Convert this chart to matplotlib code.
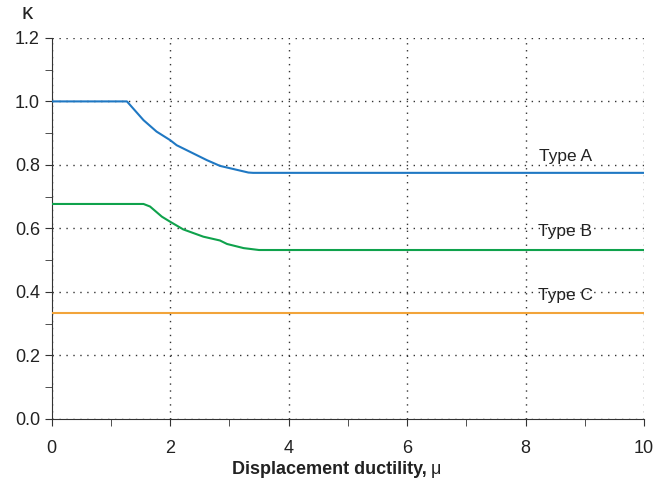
import matplotlib.pyplot as plt
from matplotlib.ticker import MultipleLocator

plt.rcParams["font.family"] = ["Liberation Sans", "DejaVu Sans"]

# values
mu_a = [0, 1.27, 1.55, 1.77, 2.0, 2.11, 2.62, 2.84, 3.32, 3.4, 10]
kappa_a = [1.0, 1.0, 0.941, 0.905, 0.878, 0.862, 0.815, 0.797, 0.776, 0.775, 0.775]

mu_b = [0, 1.55, 1.66, 1.86, 2.0, 2.22, 2.56, 2.84, 2.96, 3.24, 3.5, 10]
kappa_b = [0.677, 0.677, 0.669, 0.637, 0.621, 0.597, 0.574, 0.562, 0.551, 0.538, 0.532, 0.532]

mu_c = [0, 10]
kappa_c = [0.333, 0.333]

labels = ["Type A", "Type B", "Type C"]
label_y = [0.828, 0.59, 0.389]
label_x = 8.67

colors = ["#1f78c3", "#0fa24c", "#f2a43a"]

fig = plt.figure(figsize=(6.56, 4.86), dpi=100)
ax = fig.add_axes([0.0788, 0.138, 0.903, 0.784])

for mu, k, c in zip([mu_a, mu_b, mu_c], [kappa_a, kappa_b, kappa_c], colors):
    ax.plot(mu, k, color=c, linewidth=1.5, zorder=3)

for lab, y in zip(labels, label_y):
    ax.text(label_x, y, lab, ha="center", va="center", fontsize=12.5, color="#222222")

ax.set_xlim(0, 10)
ax.set_ylim(0, 1.2)
ax.xaxis.set_major_locator(MultipleLocator(2))
ax.xaxis.set_minor_locator(MultipleLocator(1))
ax.yaxis.set_major_locator(MultipleLocator(0.2))
ax.yaxis.set_minor_locator(MultipleLocator(0.1))
ax.yaxis.set_major_formatter(lambda v, p: f"{v:.1f}")

ax.grid(True, which="major", linestyle=(0, (1, 4)), color="#333333", linewidth=1)
ax.spines["top"].set_visible(False)
ax.spines["right"].set_visible(False)
for s in ["left", "bottom"]:
    ax.spines[s].set_color("#333333")
ax.tick_params(which="major", length=5, labelsize=13, colors="#333333", labelcolor="#222222")
ax.tick_params(which="minor", length=5, colors="#333333")
ax.tick_params(axis="x", pad=10)

# x label: bold words, regular mu
xl = fig.text(0.354, 0.033, "Displacement ductility,", fontsize=13, fontweight="bold",
              ha="left", va="center", color="#222222")
fig.canvas.draw()
bb = xl.get_window_extent()
fig.text((bb.x1 + 4) / fig.bbox.width, 0.033, "μ", fontsize=13, ha="left", va="center", color="#222222")

fig.text(0.041, 0.972, "κ", fontsize=16, ha="center", va="center", color="#222222")

fig.savefig("out.png", dpi=100)
